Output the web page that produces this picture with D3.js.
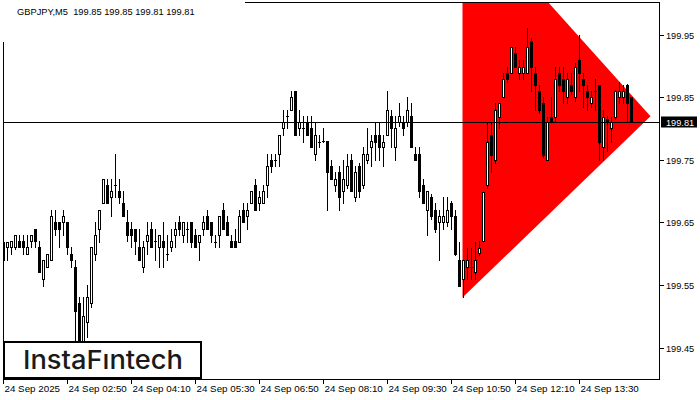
<!DOCTYPE html>
<html><head><meta charset="utf-8">
<script src="https://cdn.jsdelivr.net/npm/d3@7"></script>
<style>body{margin:0;background:#fff}svg{display:block}</style>
</head><body>
<svg id="c" width="700" height="400"></svg>
<script>
const symbolTitle = "GBPJPY,M5  199.85 199.85 199.81 199.81";
const open = [
199.590,199.610,199.610,199.610,199.620,199.620,199.600,199.620,199.639,199.610,
199.560,199.579,199.590,199.650,199.650,199.650,199.650,199.600,199.579,199.521,
199.457,199.490,199.521,199.600,199.639,199.681,199.710,199.690,199.710,199.700,
199.681,199.650,199.639,199.639,199.610,199.579,199.620,199.639,199.620,199.610,
199.620,199.600,199.610,199.630,199.650,199.630,199.639,199.650,199.630,199.619,
199.639,199.660,199.650,199.619,199.630,199.670,199.650,199.620,199.620,199.619,
199.670,199.660,199.681,199.710,199.681,199.681,199.710,199.750,199.750,199.760,
199.801,199.820,199.830,199.860,199.801,199.801,199.810,199.801,199.760,199.779,
199.781,199.780,199.740,199.710,199.730,199.700,199.710,199.750,199.690,199.740,
199.710,199.750,199.770,199.790,199.790,199.770,199.790,199.820,199.770,199.810,
199.810,199.810,199.820,199.760,199.760,199.710,199.670,199.690,199.670,199.650,
199.650,199.650,199.681,199.660,199.590,199.559,199.579,199.579,199.571,199.601,
199.621,199.710,199.790,199.750,199.819,199.850,199.890,199.890,199.921,199.890,
199.890,199.890,199.940,199.890,199.860,199.841,199.750,199.819,199.819,199.890,
199.879,199.850,199.870,199.850,199.910,199.879,199.860,199.841,199.860,199.870,
199.771,199.815,199.801,199.819,199.850,199.850,199.870,199.850];
const high = [
199.619,199.619,199.620,199.630,199.630,199.630,199.630,199.630,199.639,199.620,
199.590,199.600,199.670,199.670,199.650,199.670,199.650,199.610,199.590,199.531,
199.531,199.550,199.610,199.650,199.670,199.720,199.720,199.720,199.760,199.720,
199.700,199.670,199.650,199.639,199.639,199.620,199.650,199.650,199.639,199.630,
199.651,199.630,199.639,199.651,199.660,199.650,199.650,199.650,199.639,199.630,
199.660,199.670,199.650,199.630,199.660,199.681,199.660,199.630,199.639,199.670,
199.681,199.681,199.700,199.720,199.700,199.710,199.760,199.760,199.760,199.790,
199.830,199.830,199.860,199.860,199.830,199.820,199.820,199.820,199.810,199.790,
199.801,199.780,199.750,199.730,199.740,199.750,199.760,199.760,199.740,199.745,
199.770,199.801,199.790,199.810,199.810,199.790,199.860,199.830,199.820,199.841,
199.820,199.850,199.841,199.770,199.770,199.720,199.700,199.695,199.681,199.670,
199.690,199.690,199.685,199.670,199.619,199.590,199.609,199.609,199.619,199.621,
199.699,199.809,199.811,199.841,199.841,199.890,199.899,199.930,199.930,199.910,
199.910,199.961,199.945,199.899,199.870,199.850,199.819,199.850,199.899,199.899,
199.899,199.890,199.890,199.905,199.950,199.890,199.870,199.860,199.879,199.870,
199.830,199.820,199.819,199.862,199.875,199.870,199.872,199.850];
const low = [
199.570,199.590,199.600,199.608,199.610,199.600,199.600,199.610,199.610,199.570,
199.549,199.579,199.590,199.630,199.610,199.630,199.600,199.579,199.444,199.438,
199.446,199.467,199.515,199.590,199.619,199.681,199.681,199.660,199.690,199.681,
199.660,199.620,199.610,199.600,199.590,199.570,199.600,199.610,199.590,199.579,
199.579,199.590,199.605,199.610,199.630,199.619,199.619,199.610,199.610,199.590,
199.630,199.639,199.619,199.610,199.610,199.639,199.630,199.610,199.610,199.619,
199.650,199.639,199.681,199.670,199.670,199.681,199.690,199.730,199.740,199.740,
199.790,199.801,199.830,199.790,199.790,199.779,199.790,199.770,199.750,199.770,
199.779,199.670,199.720,199.700,199.670,199.681,199.705,199.700,199.685,199.690,
199.705,199.745,199.740,199.750,199.750,199.740,199.790,199.770,199.750,199.805,
199.790,199.805,199.770,199.750,199.690,199.681,199.630,199.655,199.635,199.590,
199.639,199.645,199.639,199.598,199.549,199.531,199.559,199.559,199.559,199.598,
199.621,199.705,199.731,199.745,199.801,199.850,199.875,199.890,199.899,199.879,
199.879,199.890,199.860,199.830,199.825,199.755,199.750,199.810,199.810,199.860,
199.841,199.841,199.855,199.845,199.860,199.835,199.830,199.835,199.830,199.750,
199.750,199.765,199.779,199.815,199.841,199.841,199.811,199.810];
const close = [
199.619,199.619,199.620,199.630,199.610,199.610,199.610,199.630,199.620,199.570,
199.590,199.600,199.660,199.639,199.639,199.660,199.610,199.590,199.509,199.454,
199.500,199.531,199.610,199.630,199.670,199.720,199.681,199.700,199.710,199.690,
199.660,199.630,199.630,199.620,199.590,199.610,199.630,199.610,199.620,199.630,
199.610,199.600,199.620,199.639,199.639,199.650,199.639,199.619,199.610,199.630,
199.650,199.639,199.630,199.619,199.660,199.639,199.630,199.610,199.610,199.660,
199.650,199.670,199.700,199.670,199.690,199.700,199.740,199.740,199.750,199.790,
199.810,199.820,199.850,199.790,199.810,199.801,199.790,199.770,199.790,199.779,
199.781,199.730,199.720,199.720,199.690,199.720,199.740,199.700,199.730,199.700,
199.760,199.760,199.780,199.779,199.770,199.779,199.830,199.801,199.801,199.820,
199.801,199.830,199.770,199.750,199.700,199.681,199.700,199.660,199.639,199.660,
199.660,199.670,199.660,199.600,199.549,199.590,199.590,199.579,199.590,199.609,
199.699,199.779,199.758,199.830,199.841,199.879,199.879,199.930,199.899,199.899,
199.899,199.930,199.899,199.870,199.830,199.758,199.810,199.810,199.879,199.870,
199.860,199.879,199.860,199.899,199.890,199.870,199.850,199.850,199.860,199.779,
199.819,199.812,199.810,199.860,199.860,199.860,199.841,199.810];
const priceTicks = [199.45, 199.55, 199.65, 199.75, 199.85, 199.95];
const timeTickBars = [0, 16, 32, 48, 64, 80, 96, 112, 128, 144];
const timeTickLabels = ["24 Sep 2025","24 Sep 02:50","24 Sep 04:10","24 Sep 05:30","24 Sep 06:50",
  "24 Sep 08:10","24 Sep 09:30","24 Sep 10:50","24 Sep 12:10","24 Sep 13:30"];
const lastPrice = 199.81;
const triangleBars = [114.75, 161.75, 114.75];
const trianglePrices = [200.155, 199.820, 199.530];
const logoText = "InstaF\u0131ntech";

const svg = d3.select("#c");
const plot = {left: 3, right: 659, top: 2, bottom: 379};
const x = d3.scaleLinear().domain([0, open.length - 1]).range([3.5, 3.5 + 4 * (open.length - 1)]);
const y = d3.scaleLinear().domain([199.45, 199.95]).range([347.5, 35]);

svg.append("defs").append("clipPath").attr("id", "pc")
  .append("rect").attr("x", plot.left).attr("y", plot.top)
  .attr("width", plot.right - plot.left).attr("height", plot.bottom - plot.top);

const g = svg.append("g").attr("clip-path", "url(#pc)");

// triangle pattern
const tri = triangleBars.map((b, i) => [x(b), y(trianglePrices[i])]);
g.append("path").attr("d", d3.line()(tri) + "Z").attr("fill", "#ff0000");

// candles
const bars = open.map((o, i) => ({i, o, h: high[i], l: low[i], c: close[i]}));
const cg = g.append("g").attr("shape-rendering", "crispEdges");
bars.forEach(d => {
  const cx = Math.floor(x(d.i));
  const yh = Math.round(y(d.h)), yl = Math.round(y(d.l));
  const yt = Math.round(y(Math.max(d.o, d.c))), yb = Math.round(y(Math.min(d.o, d.c)));
  cg.append("rect").attr("x", cx).attr("y", yh).attr("width", 1).attr("height", Math.max(1, yl - yh + 1)).attr("fill", "#000");
  if (yb - yt < 1) {
    cg.append("rect").attr("x", cx - 1).attr("y", yt).attr("width", 3).attr("height", 1).attr("fill", "#000");
  } else {
    cg.append("rect").attr("x", cx - 1).attr("y", yt).attr("width", 3).attr("height", yb - yt + 1).attr("fill", "#000");
    if (d.c > d.o && yb - yt > 1) {
      cg.append("rect").attr("x", cx).attr("y", yt + 1).attr("width", 1).attr("height", yb - yt - 1).attr("fill", "#fff");
    }
  }
});

// last price line
const yl = Math.floor(y(lastPrice)) + 0.5;
g.append("line").attr("x1", plot.left).attr("x2", plot.right).attr("y1", yl).attr("y2", yl)
  .attr("stroke", "#000").attr("stroke-width", 1);

// frame
svg.append("rect").attr("x", plot.left + 0.5).attr("y", plot.top + 0.5)
  .attr("width", plot.right - plot.left).attr("height", plot.bottom - plot.top)
  .attr("fill", "none").attr("stroke", "#000").attr("stroke-width", 1);

const font = "'Liberation Sans', Arial, sans-serif";
// price axis
priceTicks.forEach(p => {
  const yy = Math.round(y(p)) + 0.5;
  svg.append("line").attr("x1", plot.right + 1).attr("x2", plot.right + 5).attr("y1", yy).attr("y2", yy)
    .attr("stroke", "#000");
  svg.append("text").attr("x", 666).attr("y", yy).attr("dy", "0.35em")
    .attr("font-family", font).attr("font-size", "9.2px").attr("fill", "#000").text(p.toFixed(2));
});
// last price label
const lpY = y(lastPrice);
svg.append("rect").attr("x", 661).attr("y", Math.round(lpY) - 5.5).attr("width", 36).attr("height", 11).attr("fill", "#000");
svg.append("text").attr("x", 666).attr("y", lpY).attr("dy", "0.35em")
  .attr("font-family", font).attr("font-size", "9.2px").attr("fill", "#fff").text(lastPrice.toFixed(2));

// time axis
timeTickBars.forEach((b, i) => {
  const xx = Math.floor(x(b)) + 0.5;
  svg.append("line").attr("x1", xx).attr("x2", xx).attr("y1", plot.bottom + 1).attr("y2", plot.bottom + 5)
    .attr("stroke", "#000");
  svg.append("text").attr("x", xx + 1).attr("y", 392).attr("font-family", font).attr("font-size", "9.8px")
    .attr("fill", "#000").text(timeTickLabels[i]);
});

// title area (white label behind title)
svg.append("rect").attr("x", 0).attr("y", 0).attr("width", 245).attr("height", 42).attr("fill", "#fff");
svg.append("text").attr("x", 17).attr("y", 15).attr("font-family", font).attr("font-size", "9.3px")
  .attr("fill", "#000").style("white-space", "pre").attr("xml:space", "preserve").text(symbolTitle);

// logo
svg.append("rect").attr("x", 4).attr("y", 342).attr("width", 197).attr("height", 36)
  .attr("fill", "#fff").attr("stroke", "#000").attr("stroke-width", 2);
svg.append("text").attr("x", 23).attr("y", 369).attr("font-family", "Inter, Lato, sans-serif")
  .attr("font-weight", 500).attr("font-size", "26px").attr("fill", "#1a1a1a")
  .attr("textLength", 160).attr("lengthAdjust", "spacingAndGlyphs").text(logoText);
</script>
</body></html>
